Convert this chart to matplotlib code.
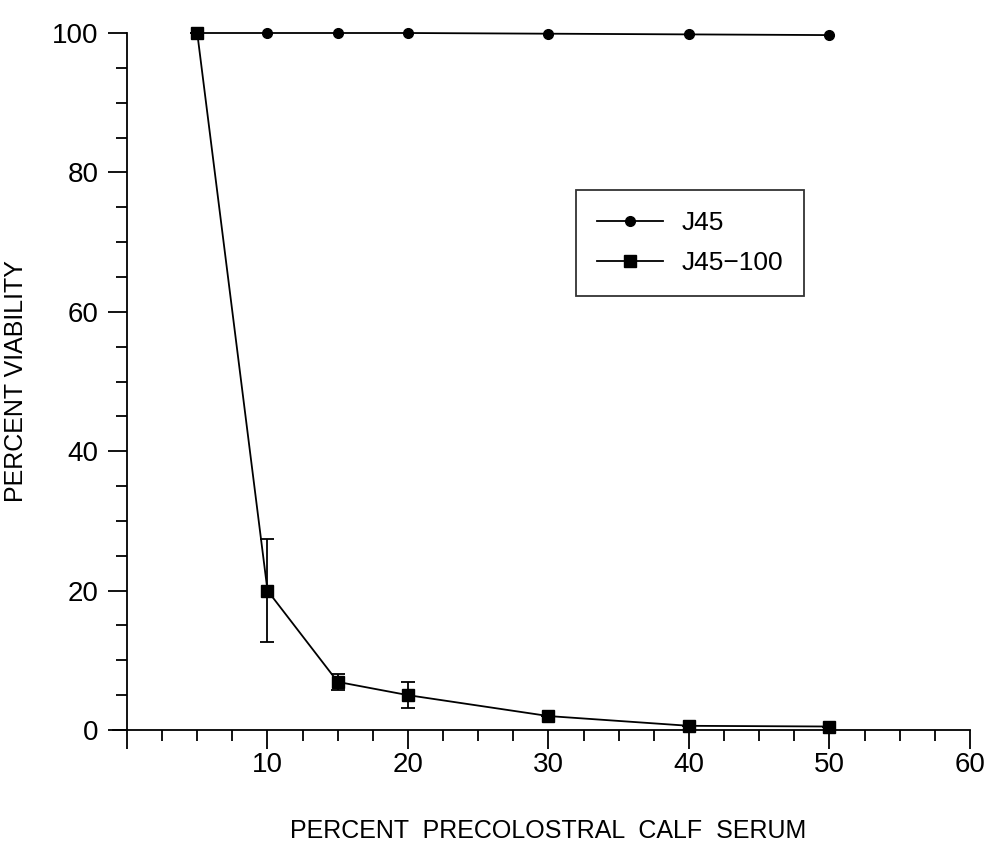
import matplotlib.pyplot as plt
from matplotlib.ticker import MultipleLocator, FixedLocator
from matplotlib.lines import Line2D

plt.rcParams['font.family'] = ['Liberation Sans', 'DejaVu Sans']

# Data
serum = [5, 10, 15, 20, 30, 40, 50]
j45 = [100, 100, 100, 100, 99.9, 99.8, 99.7]
j45_100 = [100, 20.0, 6.9, 5.0, 2.0, 0.6, 0.5]
j45_100_err = [0, 7.4, 1.2, 1.9, 0, 0, 0]

fig = plt.figure(figsize=(9.95, 8.5), dpi=100)
ax = fig.add_axes([127 / 995, 120 / 850, 843 / 995, 697 / 850])

# J45
ax.plot(serum, j45, color='black', lw=1.3, marker='o', ms=7, clip_on=False, zorder=3)

# J45-100 with error bars
ax.errorbar(serum, j45_100, yerr=j45_100_err, color='black', lw=1.3, marker='s', ms=8,
            capsize=5, elinewidth=1.3, capthick=1.3, clip_on=False, zorder=4)

ax.set_xlim(0, 60)
ax.set_ylim(0, 100)

# Axes styling
ax.spines['top'].set_visible(False)
ax.spines['right'].set_visible(False)
ax.spines['left'].set_linewidth(1.3)
ax.spines['bottom'].set_linewidth(1.3)
ax.spines['bottom'].set_bounds(-1, 60)

ax.xaxis.set_major_locator(FixedLocator([0, 10, 20, 30, 40, 50, 60]))
ax.xaxis.set_minor_locator(MultipleLocator(2.5))
ax.yaxis.set_major_locator(MultipleLocator(20))
ax.yaxis.set_minor_locator(MultipleLocator(5))
ax.set_xticklabels(['', '10', '20', '30', '40', '50', '60'])

ax.tick_params(axis='both', which='major', direction='out', length=13.5, width=1.3, labelsize=20)
ax.tick_params(axis='both', which='minor', direction='out', length=8, width=1.3)
ax.tick_params(axis='x', which='major', pad=2)
ax.tick_params(axis='y', which='major', pad=7)

ax.set_xlabel('PERCENT  PRECOLOSTRAL  CALF  SERUM', fontsize=18, labelpad=30)
ax.set_ylabel('PERCENT VIABILITY', fontsize=18)
ax.yaxis.set_label_coords(-99 / 843, 0.5)

# Legend (plain line + marker handles)
handles = [Line2D([], [], color='black', lw=1.3, marker='o', ms=7),
           Line2D([], [], color='black', lw=1.3, marker='s', ms=8)]
leg = ax.legend(handles, ['J45', 'J45\u2212100'], loc='upper left',
                bbox_to_anchor=(449 / 843, 1 - 157 / 697), fontsize=19,
                frameon=True, fancybox=False, edgecolor='black', handlelength=2.5,
                borderpad=0.8, labelspacing=0.6, handletextpad=0.7, borderaxespad=0)
leg.get_frame().set_linewidth(1.3)

plt.savefig('out.png', dpi=100)
